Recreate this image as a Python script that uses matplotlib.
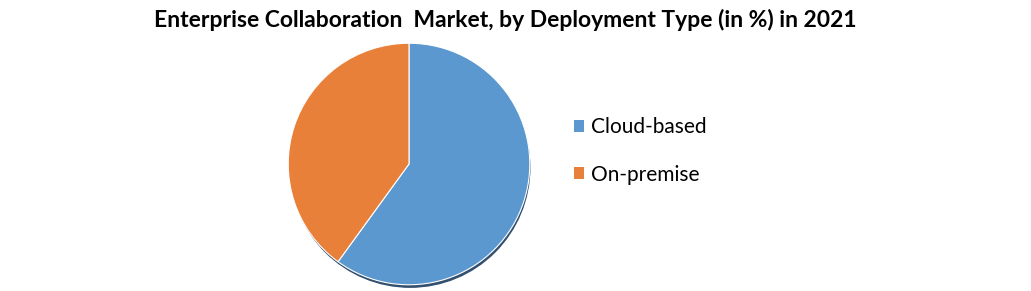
import matplotlib
matplotlib.use("Agg")
import matplotlib.pyplot as plt
from matplotlib.patches import Circle, Patch

# Share of the market by deployment type, 2021 (%)
labels = ["Cloud-based", "On-premise"]
shares = [60, 40]
colors = ["#5b98cf", "#e9803a"]

title = "Enterprise Collaboration  Market, by Deployment Type (in %) in 2021"

W, H = 1031, 291
fig = plt.figure(figsize=(W / 100, H / 100), dpi=100)

# pie axes, placed in pixel terms
cx, cy, r = 409, 164, 121
ax = fig.add_axes([(cx - r - 4) / W, (H - cy - r - 4) / H, (2 * r + 8) / W, (2 * r + 8) / H])
ax.set_aspect("equal")
ax.axis("off")

# soft drop shadow under the pie
ax.add_patch(Circle((0.01, -0.03), 0.99, color="#34506e", zorder=0))

ax.pie(
    shares,
    colors=colors,
    startangle=90,
    counterclock=False,
    radius=1.0,
    wedgeprops={"edgecolor": "white", "linewidth": 0.8},
)
ax.set_xlim(-1.035, 1.035)
ax.set_ylim(-1.035, 1.035)

fig.text(
    505.5 / W, 1 - 20 / H, title,
    ha="center", va="center", fontsize=16.5, fontweight="bold", family="Lato",
)

handles = [Patch(facecolor=c, edgecolor="none") for c in colors]
fig.legend(
    handles, labels,
    loc="center left", bbox_to_anchor=(555 / W, 1 - 151 / H),
    frameon=False, prop={"family": "Lato", "size": 15},
    handlelength=0.5, handleheight=0.5, handletextpad=0.35, labelspacing=1.3,
)

fig.savefig("out.png", dpi=100, facecolor="white")
